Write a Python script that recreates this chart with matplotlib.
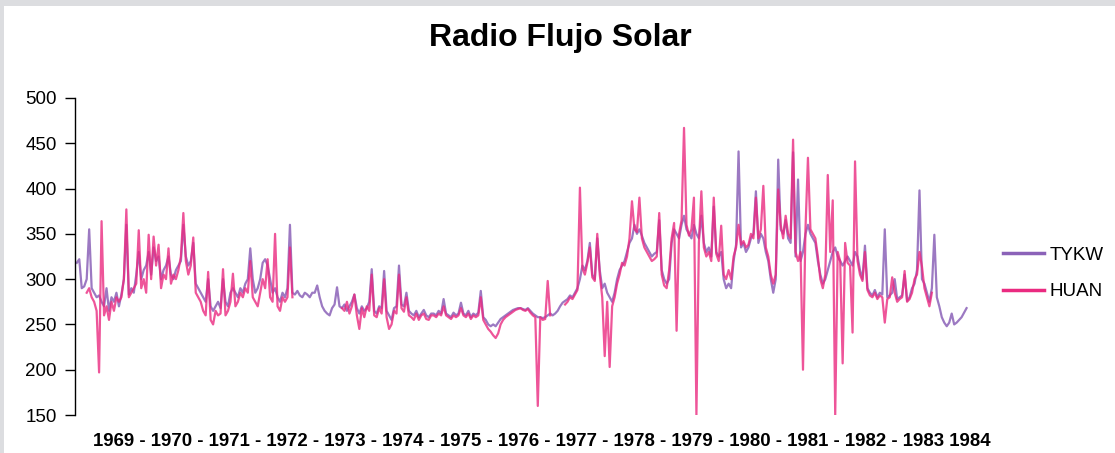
import numpy as np
import matplotlib
matplotlib.use("Agg")
import matplotlib.pyplot as plt
from matplotlib.patches import Rectangle

nan = np.nan

title = "Radio Flujo Solar"
years = list(range(1969, 1985))
series_names = ["TYKW", "HUAN"]
steps_per_year = 24

# values every half month, one row per year (1969 .. 1983)
tykw = [
    [318, 322, 290, 292, 300, 355, 290, 285, 280, 282, 275, 270, 290, 265, 280, 275, 285, 270, 283, 300, 360, 283, 290, 285],
    [305, 330, 300, 310, 315, 330, 305, 335, 320, 325, 300, 310, 315, 325, 305, 300, 310, 315, 320, 360, 325, 315, 320, 340],
    [295, 290, 285, 280, 275, 300, 270, 265, 270, 275, 268, 300, 275, 270, 285, 290, 285, 280, 290, 285, 295, 300, 334, 300],
    [285, 290, 300, 318, 322, 315, 300, 285, 290, 280, 275, 285, 280, 290, 360, 285, 283, 287, 282, 280, 285, 283, 280, 285],
    [285, 293, 280, 270, 265, 262, 260, 268, 272, 291, 270, 268, 272, 265, 270, 275, 283, 268, 262, 270, 265, 268, 275, 311],
    [265, 262, 270, 268, 309, 265, 260, 255, 268, 270, 315, 272, 270, 285, 265, 262, 260, 265, 258, 262, 266, 260, 258, 262],
    [262, 260, 265, 262, 278, 262, 260, 258, 263, 260, 262, 274, 262, 260, 265, 258, 262, 260, 263, 287, 258, 255, 250, 248],
    [250, 248, 252, 256, 258, 260, 262, 264, 266, 267, 268, 268, 267, 266, 268, 265, 262, 260, 258, 258, 257, 258, 260, 262],
    [260, 262, 265, 270, 274, 276, 278, 282, 280, 285, 290, 300, 315, 310, 320, 340, 305, 300, 345, 310, 290, 295, 285, 280],
    [275, 285, 300, 310, 315, 320, 330, 340, 345, 360, 350, 355, 348, 340, 335, 330, 325, 328, 330, 365, 310, 300, 295, 300],
    [340, 355, 350, 345, 360, 370, 355, 350, 345, 360, 350, 345, 370, 340, 330, 335, 325, 380, 330, 325, 330, 300, 290, 295],
    [290, 320, 338, 441, 335, 340, 330, 335, 345, 350, 397, 340, 350, 345, 330, 320, 300, 285, 300, 432, 355, 350, 365, 345],
    [340, 440, 325, 410, 320, 330, 350, 360, 350, 345, 340, 320, 305, 295, 300, 310, 320, 330, 335, 325, 320, 315, 320, 325],
    [320, 315, 330, 325, 310, 300, 337, 290, 285, 282, 288, 280, 285, 283, 355, 280, 282, 285, 300, 278, 280, 282, 305, 276],
    [280, 290, 295, 310, 398, 300, 295, 285, 275, 290, 349, 280, 270, 258, 252, 248, 252, 262, 250, 252, 255, 258, 263, 268],
]

huan = [
    [nan, nan, nan, nan, 285, 290, 280, 275, 265, 197, 364, 260, 270, 255, 275, 265, 280, 275, 280, 300, 377, 280, 285, 290],
    [295, 354, 290, 300, 285, 349, 300, 347, 315, 338, 290, 305, 300, 334, 295, 305, 300, 310, 325, 373, 320, 305, 315, 346],
    [285, 280, 275, 265, 260, 308, 255, 250, 265, 260, 262, 311, 260, 265, 275, 306, 270, 275, 285, 280, 290, 285, 320, 280],
    [275, 270, 285, 300, 290, 322, 280, 275, 350, 270, 265, 280, 275, 280, 335, 280, nan, nan, nan, nan, nan, nan, nan, nan],
    [nan, nan, nan, nan, nan, nan, nan, nan, nan, nan, nan, 268, 265, 275, 262, 270, 283, 260, 245, 268, 258, 270, 265, 305],
    [260, 258, 268, 262, 300, 258, 245, 250, 265, 262, 305, 268, 264, 280, 260, 258, 255, 262, 255, 260, 262, 256, 255, 260],
    [260, 258, 262, 260, 270, 260, 258, 256, 260, 258, 260, 268, 260, 258, 262, 256, 260, 258, 260, 280, 255, 250, 245, 242],
    [238, 235, 240, 250, 255, 258, 260, 262, 264, 266, 267, 268, 266, 265, 267, 263, 260, 258, 160, 258, 255, 256, 298, 260],
    [nan, nan, nan, nan, nan, 272, 275, 280, 278, 283, 288, 401, 312, 305, 318, 335, 302, 298, 350, 305, 280, 215, 275, 203],
    [270, 280, 295, 305, 318, 315, 325, 345, 386, 355, 352, 390, 345, 335, 330, 325, 320, 322, 325, 373, 305, 293, 290, 310],
    [345, 362, 243, 350, 365, 467, 360, 348, 355, 390, 150, 340, 397, 335, 325, 330, 320, 390, 328, 320, 359, 305, 300, 310],
    [300, 325, 335, 360, 338, 342, 335, 338, 350, 345, 390, 345, 355, 403, 335, 325, 305, 295, 305, 399, 360, 345, 370, 350],
    [345, 454, 330, 320, 330, 200, 355, 434, 355, 350, 345, 325, 300, 290, 305, 415, 330, 387, 150, 330, 320, 207, 340, 318],
    [315, 241, 430, 320, 305, 298, 330, 288, 282, 280, 285, 278, 282, 280, 252, 278, 280, 302, 285, 275, 278, 280, 309, 275],
    [278, 285, 300, 305, 330, 314, 290, 280, 270, 285, nan, nan, nan, nan, nan, nan, nan, nan, nan, nan, nan, nan, nan, nan],
]

yticks = [150, 200, 250, 300, 350, 400, 450, 500]
x_label_text = " - ".join(str(y) for y in years[:-1]) + " " + str(years[-1])

tykw_v = np.array(tykw, dtype=float).ravel()
huan_v = np.array(huan, dtype=float).ravel()
t = years[0] + np.arange(tykw_v.size) / steps_per_year

plt.rcParams["font.family"] = ["Liberation Sans", "DejaVu Sans"]

fig = plt.figure(figsize=(11.15, 4.53), dpi=100)
fig.patch.set_facecolor("white")
# light grey frame strips (top and left)
fig.patches.append(Rectangle((0, 1 - 6 / 453), 1, 6 / 453, transform=fig.transFigure,
                             facecolor="#dcdde0", edgecolor="none", zorder=0))
fig.patches.append(Rectangle((0, 0), 4 / 1115, 1, transform=fig.transFigure,
                             facecolor="#dcdde0", edgecolor="none", zorder=0))

ax = fig.add_axes([75 / 1115, 38 / 453, 900 / 1115, 317 / 453])
ax.plot(t, tykw_v, color="#8b62b8", lw=1.6, alpha=0.85, label=series_names[0])
ax.plot(t, huan_v, color="#ea2a80", lw=1.6, alpha=0.8, label=series_names[1])

ax.set_xlim(1968.97, 1984.1)
ax.set_ylim(150, 500)
ax.set_yticks(yticks)
ax.set_xticks([])
for s in ["top", "right", "bottom"]:
    ax.spines[s].set_visible(False)
ax.spines["left"].set_linewidth(1.0)
ax.tick_params(axis="y", direction="out", length=7, width=1, labelsize=13.5, pad=6)

fig.text(560 / 1115, 1 - 38 / 453, title, ha="center", va="center",
         fontsize=23, fontweight="bold")
fig.text(542 / 1115, 1 - 441 / 453, x_label_text, ha="center", va="center",
         fontsize=13.4, fontweight="bold")

leg = ax.legend(loc="center left", bbox_to_anchor=(986 / 1115, 1 - 273.5 / 453),
                bbox_transform=fig.transFigure, frameon=False, fontsize=13.5,
                handlelength=2.2, handletextpad=0.3, labelspacing=1.05)
for line in leg.get_lines():
    line.set_linewidth(2.5)
    line.set_alpha(1.0)

fig.savefig("out.png", dpi=100)
